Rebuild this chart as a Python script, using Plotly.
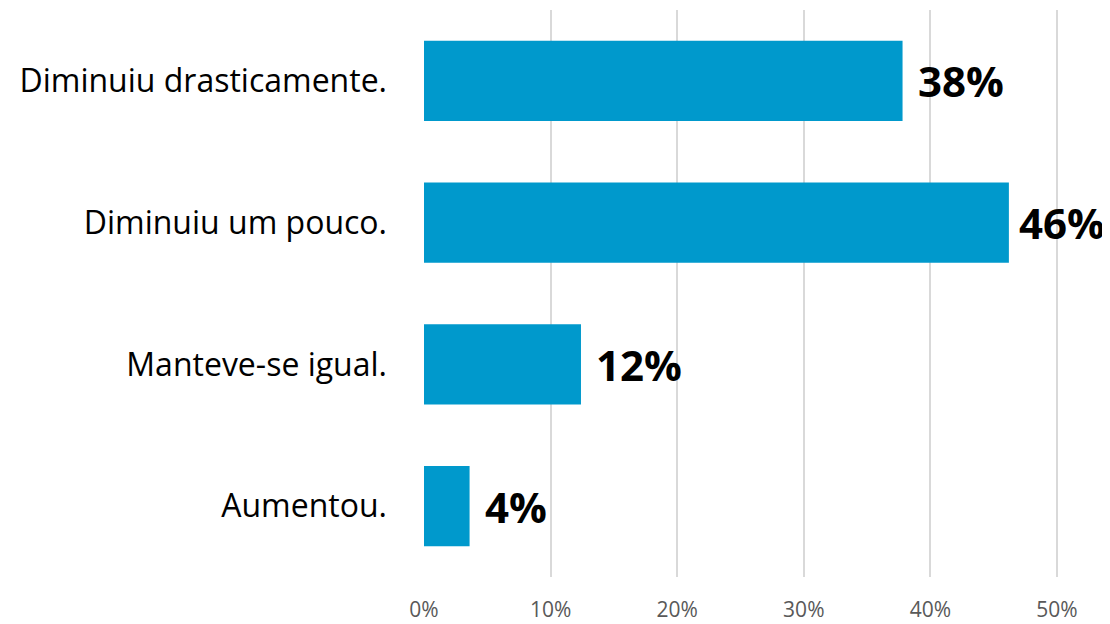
import plotly.graph_objects as go

categories = ["Diminuiu drasticamente.", "Diminuiu um pouco.", "Manteve-se igual.", "Aumentou."]
values = [0.378, 0.462, 0.124, 0.036]
labels = ["38%", "46%", "12%", "4%"]
tick_vals = [0, 0.1, 0.2, 0.3, 0.4, 0.5]
tick_text = ["0%", "10%", "20%", "30%", "40%", "50%"]

fig = go.Figure(go.Bar(
    x=values, y=categories, orientation="h",
    marker=dict(color="#0099CC", line=dict(width=0)),
    hoverinfo="skip",
))

label_shifts = [13, 8, 13, 13]
for c, v, t, s in zip(categories, values, labels, label_shifts):
    fig.add_annotation(x=v, y=c, text="<b>%s</b>" % t, showarrow=False,
                       xanchor="left", yanchor="middle", xshift=s,
                       font=dict(family="Open Sans", size=42, color="#000000"))

# page body has an 8px margin, so the figure is shrunk by 8px on each axis
fig.update_layout(
    width=1102, height=616,
    margin=dict(l=416, r=50, t=2, b=47),
    paper_bgcolor="white", plot_bgcolor="white",
    bargap=0.435,
    showlegend=False,
    xaxis=dict(range=[0, 0.50237], tickvals=tick_vals, ticktext=tick_text,
               showgrid=True, gridcolor="#D9D9D9", gridwidth=1.5,
               zeroline=False, showline=False, automargin=False,
               tickfont=dict(family="Open Sans", size=21, color="#595959"),
               ticklabelstandoff=18),
    yaxis=dict(autorange="reversed", showgrid=False, zeroline=False, showline=False,
               automargin=False,
               tickfont=dict(family="Open Sans", size=32, color="#000000"),
               ticklabelstandoff=36),
)

fig.write_html("out.html")
